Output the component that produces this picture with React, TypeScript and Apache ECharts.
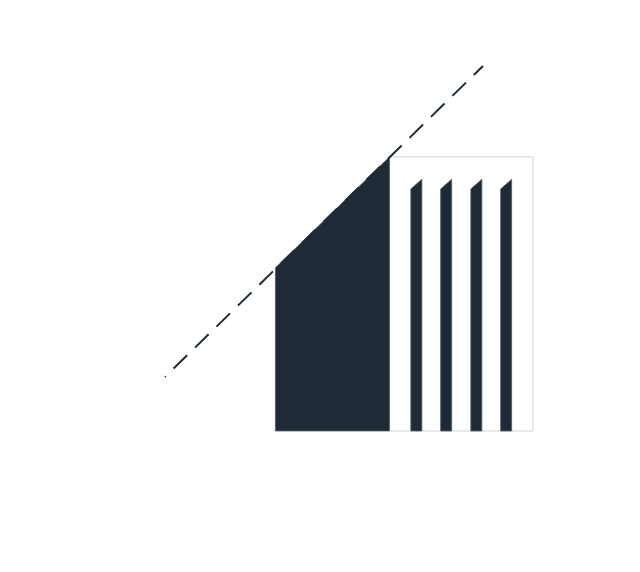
import React, { useRef, useEffect } from 'react';
import * as echarts from 'echarts';

// shared value range for both axes
const axisRange = [0, 100];

// dashed trend line: [x, y]
const trendLine = [
  [0, 14.8],
  [86.4, 100],
];

// dark block: left and right edge, top heights at each edge
const blockX = [30, 61];
const blockTop = [44.7, 75.1];

// framed box to the right of the block: [x0, x1, top]
const frameBox = [61, 100, 75.1];

// stripes inside the frame: left edges, width and sloped top
const stripeStarts = [66.8, 74.9, 83.1, 91.2];
const stripeWidth = 3;
const stripeTop = [66.3, 69];

const DARK = '#1e2a35';
const EDGE = '#56616c';

const App: React.FC = () => {
  const chartRef = useRef<HTMLDivElement>(null);

  useEffect(() => {
    document.body.style.margin = '0';
    if (!chartRef.current) return;
    const myChart = echarts.init(chartRef.current, null, { renderer: 'svg' });

    const option: echarts.EChartsOption = {
      animation: false,
      backgroundColor: '#ffffff',
      grid: { left: 165, top: 66, width: 368, height: 365 },
      xAxis: { type: 'value', min: axisRange[0], max: axisRange[1], show: false },
      yAxis: { type: 'value', min: axisRange[0], max: axisRange[1], show: false },
      series: [
        {
          type: 'custom',
          clip: false,
          data: [frameBox],
          renderItem: (params: any, api: any) => {
            const p0 = api.coord([api.value(0), 0]);
            const p1 = api.coord([api.value(1), api.value(2)]);
            return {
              type: 'rect',
              shape: { x: p0[0], y: p1[1], width: p1[0] - p0[0], height: p0[1] - p1[1] },
              style: { fill: '#ffffff', stroke: '#d3d3d3', lineWidth: 1 },
            };
          },
        },
        {
          type: 'custom',
          clip: false,
          data: [[blockX[0], blockTop[0], blockX[1], blockTop[1]]],
          renderItem: (params: any, api: any) => {
            const x0 = api.value(0);
            const y0 = api.value(1);
            const x1 = api.value(2);
            const y1 = api.value(3);
            const points = [
              [x0, 0],
              [x1, 0],
              [x1, y1],
              [x0, y0],
            ].map((p) => api.coord(p));
            return {
              type: 'polygon',
              shape: { points },
              style: { fill: DARK, stroke: EDGE, lineWidth: 0.8 },
            };
          },
        },
        {
          type: 'custom',
          clip: false,
          data: stripeStarts.map((x) => [x]),
          renderItem: (params: any, api: any) => {
            const x0 = api.value(0);
            const points = [
              [x0, 0],
              [x0 + stripeWidth, 0],
              [x0 + stripeWidth, stripeTop[1]],
              [x0, stripeTop[0]],
            ].map((p) => api.coord(p));
            return {
              type: 'polygon',
              shape: { points },
              style: { fill: DARK, stroke: EDGE, lineWidth: 0.8 },
            };
          },
        },
        {
          type: 'line',
          data: trendLine,
          symbol: 'none',
          silent: true,
          lineStyle: { color: DARK, width: 2, type: [19, 11], dashOffset: 17.5 },
        },
      ],
    };

    myChart.setOption(option);

    const handleResize = () => myChart.resize();
    window.addEventListener('resize', handleResize);

    return () => {
      myChart.dispose();
      window.removeEventListener('resize', handleResize);
    };
  }, []);

  return <div ref={chartRef} style={{ width: '640px', height: '572px' }} />;
};

export default App;
